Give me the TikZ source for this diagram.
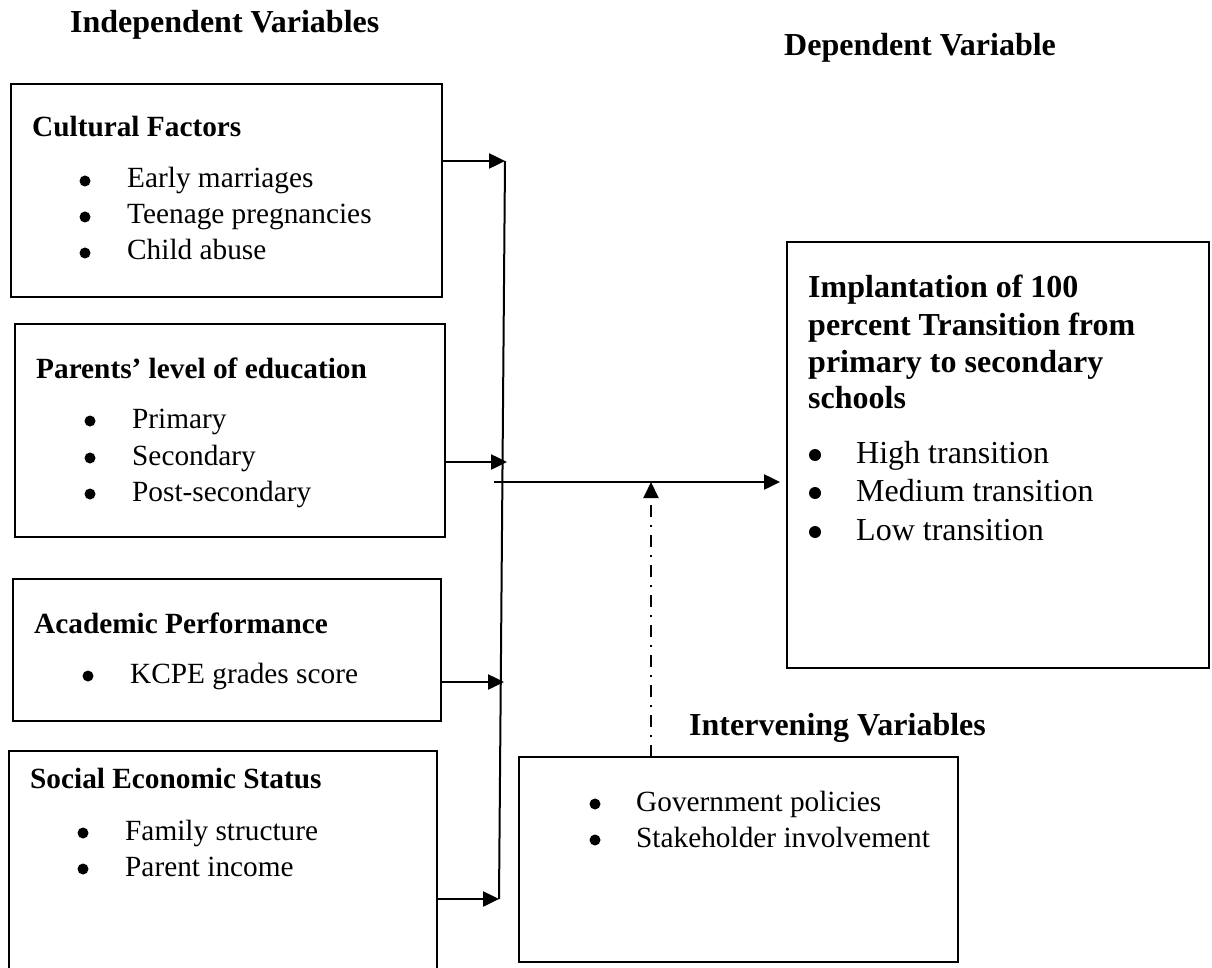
\documentclass[tikz,border=0pt]{standalone}
\usepackage{fontspec}
\setmainfont{Liberation Serif}
\usetikzlibrary{arrows.meta,calc}
\begin{document}
\begin{tikzpicture}[x=1pt,y=-1pt,
  box/.style={draw, line width=1.8pt, inner sep=0pt, outer sep=0pt, anchor=north west},
  hd/.style={anchor=base west, inner sep=0pt, font=\fontsize{32}{37}\selectfont\bfseries},
  ttl/.style={anchor=base west, inner sep=0pt, font=\fontsize{29.3}{36}\selectfont\bfseries},
  dttl/.style={anchor=base west, inner sep=0pt, font=\fontsize{32}{37}\selectfont\bfseries},
  itm/.style={anchor=base west, inner sep=0pt, font=\fontsize{29.3}{36}\selectfont},
  ditm/.style={anchor=base west, inner sep=0pt, font=\fontsize{32}{37}\selectfont},
  bul/.style={circle, fill, inner sep=0pt, minimum size=11pt},
  dbul/.style={circle, fill, inner sep=0pt, minimum size=12pt},
  arr/.style={line width=2.5pt, -{Triangle[length=16pt,width=15pt]}},
  bus/.style={line width=2pt},
  dd/.style={line width=2pt, dash pattern=on 12pt off 8pt on 2pt off 8pt, -{Triangle[length=16pt,width=15pt]}}
]
\useasboundingbox (0,0) rectangle (1212,968);
\clip (0,0) rectangle (1212,968);

% headings
\node[hd] (hind) at (70,33) {Independent Variables};
\node[hd] (hdep) at (784,56) {Dependent Variable};
\node[hd] (hint) at (689,735) {Intervening Variables};

% cultural factors
\node[box, minimum width=431pt, minimum height=213pt] (cult) at (11,84) {};
\node[ttl] (cultt) at (32,137) {Cultural Factors};
\node[bul] (cb1) at (85,181) {};
\node[itm] (ci1) at (127,188) {Early marriages};
\node[bul] (cb2) at (85,217) {};
\node[itm] (ci2) at (127,224) {Teenage pregnancies};
\node[bul] (cb3) at (85,253) {};
\node[itm] (ci3) at (127,260) {Child abuse};

% parents
\node[box, minimum width=430pt, minimum height=213pt] (par) at (15,324) {};
\node[ttl] (part) at (36,378) {Parents’ level of education};
\node[bul] (pb1) at (90,421) {};
\node[itm] (pi1) at (132,428) {Primary};
\node[bul] (pb2) at (90,458) {};
\node[itm] (pi2) at (132,465) {Secondary};
\node[bul] (pb3) at (90,494) {};
\node[itm] (pi3) at (132,501) {Post-secondary};

% academic
\node[box, minimum width=428pt, minimum height=142pt] (acad) at (13,579) {};
\node[ttl] (acadt) at (34,633) {Academic Performance};
\node[bul] (ab1) at (88,676) {};
\node[itm] (ai1) at (130,683) {KCPE grades score};

% social
\node[box, minimum width=428pt, minimum height=240pt] (soc) at (9,751) {};
\node[ttl] (soct) at (30,788) {Social Economic Status};
\node[bul] (sb1) at (83,833) {};
\node[itm] (si1) at (125,840) {Family structure};
\node[bul] (sb2) at (83,869) {};
\node[itm] (si2) at (125,876) {Parent income};

% dependent
\node[box, minimum width=422pt, minimum height=426pt] (dep) at (787,242) {};
\node[dttl] (dt1) at (808,298) {Implantation of 100};
\node[dttl] (dt2) at (808,335) {percent Transition from};
\node[dttl] (dt3) at (808,372) {primary to secondary};
\node[dttl] (dt4) at (808,408) {schools};
\node[dbul] (db1) at (815,455) {};
\node[ditm] (di1) at (856,463) {High transition};
\node[dbul] (db2) at (815,493) {};
\node[ditm] (di2) at (856,501) {Medium transition};
\node[dbul] (db3) at (815,532) {};
\node[ditm] (di3) at (856,540) {Low transition};

% intervening
\node[box, minimum width=439pt, minimum height=205pt] (int) at (519,757) {};
\node[bul] (ib1) at (595,804) {};
\node[itm] (ii1) at (636,811) {Government policies};
\node[bul] (ib2) at (595,840) {};
\node[itm] (ii2) at (636,847) {Stakeholder involvement};

% connectors
\coordinate (bt) at (505,161);
\coordinate (bb) at (499,899);
\coordinate (t2) at (507,462);
\coordinate (t3) at (504,682);
\coordinate (ms) at (494,482);
\coordinate (j) at (651,482);

\draw[bus] (bt) -- (bb);
\draw[arr] (cult.east |- bt) -- (bt);
\draw[arr] (par.east |- t2) -- (t2);
\draw[arr] (acad.east |- t3) -- (t3);
\draw[arr] (soc.east |- bb) -- (bb);
\draw[arr, shorten >=7pt] (ms) -- (ms -| dep.west);
\draw[dd] (int.north -| j) -- (j);
\end{tikzpicture}
\end{document}
